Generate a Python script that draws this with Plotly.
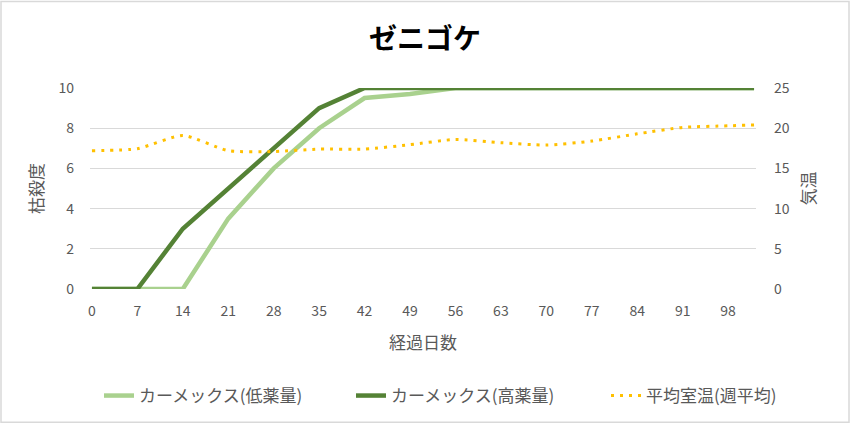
import plotly.graph_objects as go

days = [0, 7, 14, 21, 28, 35, 42, 49, 56, 63, 70, 77, 84, 91, 98, 102]
low_dose = [0, 0, 0, 3.5, 6, 8, 9.5, 9.7, 10, 10, 10, 10, 10, 10, 10, 10]
high_dose = [0, 0, 3, 5, 7, 9, 10, 10, 10, 10, 10, 10, 10, 10, 10, 10]
temp = [17.2, 17.45, 19.1, 17.2, 17.1, 17.4, 17.4, 17.95, 18.6, 18.2, 17.9, 18.4, 19.3, 20.1, 20.3, 20.4]
x_ticks = list(range(0, 99, 7))

FONT = "Noto Sans CJK JP, Noto Sans, sans-serif"
GREY = "#595959"
L, R, T, B = 90, 94, 88, 135
PW, PH = 850 - L - R, 425 - T - B

fig = go.Figure()
fig.add_trace(go.Scatter(x=days, y=low_dose, name="カーメックス(低薬量)", mode="lines",
                         line=dict(color="#A9D18E", width=4.5), legend="legend", showlegend=True))
fig.add_trace(go.Scatter(x=days, y=high_dose, name="カーメックス(高薬量)", mode="lines",
                         line=dict(color="#548235", width=4.5), legend="legend2", showlegend=True))
fig.add_trace(go.Scatter(x=days, y=temp, name="平均室温(週平均)", mode="lines", yaxis="y2",
                         line=dict(color="#FFC000", width=3, dash="3px,6px", shape="spline", smoothing=0.6),
                         legend="legend3", showlegend=True))

ly = -((396 - (T + PH)) / PH)

def leg(px):
    return dict(orientation="h", x=(px - L) / PW, xanchor="left", y=ly, yanchor="middle",
                font=dict(size=17, color=GREY), bgcolor="rgba(0,0,0,0)")

fig.update_layout(
    width=850, height=425,
    margin=dict(l=L, r=R, t=T, b=B),
    paper_bgcolor="white", plot_bgcolor="white",
    showlegend=True,
    font=dict(family=FONT, size=14, color=GREY),
    title=dict(text="<b>ゼニゴケ</b>", x=0.5, xanchor="center", y=1 - 39/425, yanchor="middle",
               font=dict(family=FONT, size=28, color="black")),
    xaxis=dict(range=[-0.3, 102.3], tickvals=x_ticks, showgrid=False, zeroline=False,
               showline=False, ticks="", tickfont=dict(size=14, color=GREY), ticklabelstandoff=12,
               title=dict(text="経過日数", font=dict(size=17, color=GREY), standoff=18)),
    yaxis=dict(range=[0, 10], dtick=2, showgrid=True, gridcolor="#D9D9D9", gridwidth=1,
               zeroline=False, showline=False, ticks="", ticklabelstandoff=15,
               tickfont=dict(size=14, color=GREY),
               title=dict(text="枯殺度", font=dict(size=17, color=GREY), standoff=10)),
    yaxis2=dict(range=[0, 25], dtick=5, overlaying="y", side="right", showgrid=False,
                zeroline=False, showline=False, ticks="", ticklabelstandoff=17,
                tickfont=dict(size=14, color=GREY),
                title=dict(text="気温", font=dict(size=17, color=GREY), standoff=14)),
    legend=leg(99),
    legend2=leg(351),
    legend3=leg(606),
    shapes=[dict(type="rect", xref="paper", yref="paper",
                 x0=-(L - 1) / PW, x1=1 + (R - 1) / PW, y0=-(B - 1) / PH, y1=1 + (T - 1) / PH,
                 line=dict(color="#D9D9D9", width=1.5), fillcolor="rgba(0,0,0,0)")],
)

fig.write_html("out.html", config={"displayModeBar": False},
               post_script="document.body.style.margin='0';document.body.style.overflow='hidden';")
